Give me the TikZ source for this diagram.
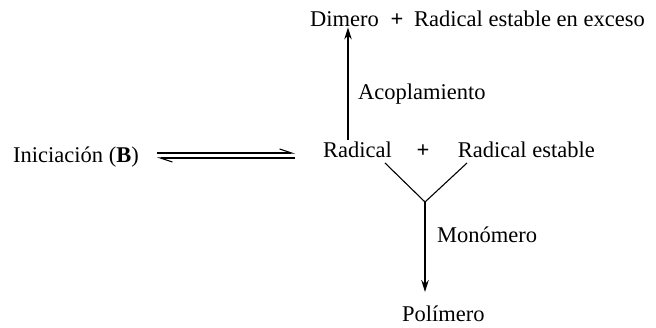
\documentclass[tikz,border=0pt]{standalone}
\usepackage{fontspec}
\setmainfont{Liberation Serif}
\usetikzlibrary{arrows.meta}

\begin{document}
\begin{tikzpicture}[x=1pt, y=-1pt, font=\fontsize{22.5}{26}\selectfont,
  txt/.style={inner sep=0pt, anchor=base west},
  pls/.style={inner sep=0pt, anchor=base, font=\fontsize{22.5}{26}\selectfont\bfseries},
  rxn/.style={line width=1.3pt, -{Stealth[length=12pt, width=7.5pt]}},
  harp/.style={line width=1.1pt, -{Straight Barb[left, length=12pt, width=8pt]}}]
\useasboundingbox (0,0) rectangle (656,328);

% top line
\node[txt] (dim) at (310,27) {Dimero};
\node[pls] (plusA) at (397,27) {+};
\node[txt] (exc) at (414,27) {Radical estable en exceso};

% middle line
\node[txt] (ini) at (13,163) {Iniciación (\textbf{B})};
\node[txt] (rad) at (323,158) {Radical};
\node[pls] (plusB) at (423,158) {+};
\node[txt, anchor=base east] (rest) at (595,158) {Radical estable};

% labels
\node[txt] (acop) at (358,100) {Acoplamiento};
\node[txt] (mono) at (437,243) {Monómero};
\node[txt] (poly) at (402,322) {Polímero};

% equilibrium
\coordinate (eqL) at (157,155.5);
\coordinate (eqR) at (295,155.5);
\draw[harp] ([yshift=2.5pt]eqL) -- ([yshift=2.5pt]eqR);
\draw[harp] ([yshift=-2.5pt]eqR) -- ([yshift=-2.5pt]eqL);

% coupling
\coordinate (up) at (348,140);
\draw[rxn] (up) -- (dim.south -| up);

% Y junction
\coordinate (yl) at (385,163);
\coordinate (yr) at (467,163);
\coordinate (junc) at (425,202);
\draw[line width=1.1pt] (yl) -- (junc) -- (yr);
\draw[rxn] (junc) -- (junc |- 0,292);
\end{tikzpicture}
\end{document}
